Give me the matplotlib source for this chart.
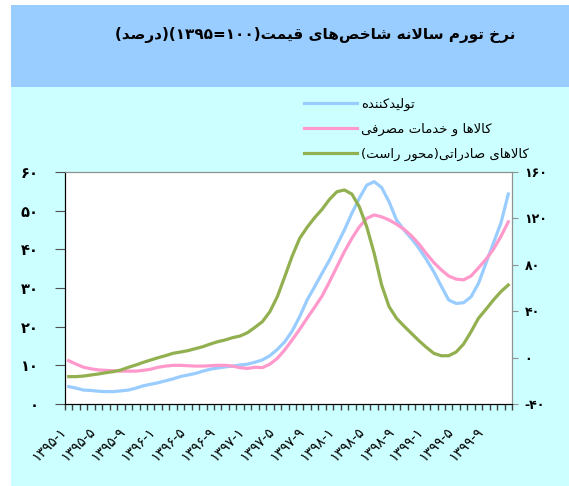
import numpy as np
import matplotlib.pyplot as plt
from matplotlib.patches import Rectangle

### DATA
# months 1395-1 .. 1399-12
producer = [4.5, 4.1, 3.6, 3.5, 3.3, 3.2, 3.2, 3.4, 3.6, 4.1,
            4.7, 5.1, 5.5, 6.0, 6.5, 7.1, 7.5, 7.9, 8.5, 9.0,
            9.3, 9.6, 9.8, 10.1, 10.3, 10.8, 11.4, 12.5, 14.1, 16.1,
            18.9, 22.6, 26.9, 30.3, 33.8, 37.2, 41.1, 45.0, 49.3, 53.2,
            56.6, 57.5, 56.0, 52.3, 47.6, 45.0, 42.8, 40.3, 37.4, 34.2,
            30.5, 26.9, 26.0, 26.2, 27.7, 31.2, 36.4, 41.6, 46.7, 54.3]
consumer = [11.2, 10.3, 9.5, 9.1, 8.8, 8.7, 8.6, 8.5, 8.5, 8.5,
            8.7, 9.0, 9.5, 9.8, 10.0, 10.0, 9.9, 9.8, 9.8, 9.9,
            10.0, 10.0, 9.8, 9.4, 9.2, 9.5, 9.4, 10.3, 11.8, 14.0,
            16.6, 19.3, 22.2, 25.0, 27.9, 31.6, 35.5, 39.4, 42.8, 45.8,
            48.0, 48.9, 48.4, 47.6, 46.5, 45.2, 43.5, 41.4, 38.9, 36.6,
            34.7, 33.1, 32.3, 32.1, 33.1, 35.2, 37.4, 40.0, 43.3, 47.1]
exports = [-16.4, -16.4, -15.9, -15.0, -14.1, -13.0, -12.1, -10.7, -8.4, -6.4,
           -4.1, -2.1, -0.1, 1.7, 3.7, 4.8, 6.0, 7.7, 9.4, 11.7,
           13.7, 15.2, 17.2, 18.6, 21.5, 26.1, 31.0, 39.6, 52.5, 69.8,
           87.6, 102.8, 112.3, 120.6, 127.8, 136.4, 143.0, 144.5, 141.0, 130.1,
           112.8, 89.9, 62.6, 43.9, 33.9, 27.2, 20.9, 14.6, 8.9, 3.7,
           1.6, 1.6, 4.8, 11.7, 22.3, 33.9, 41.6, 49.6, 56.8, 62.6]

years = ["۱۳۹۵", "۱۳۹۶", "۱۳۹۷", "۱۳۹۸", "۱۳۹۹"]
label_months = ["۱", "۵", "۹"]
left_ticks = [0, 10, 20, 30, 40, 50, 60]
left_labels = ["۰", "۱۰", "۲۰", "۳۰", "۴۰", "۵۰", "۶۰"]
right_ticks = [-40, 0, 40, 80, 120, 160]
right_labels = ["-۴۰", "۰", "۴۰", "۸۰", "۱۲۰", "۱۶۰"]

title = "نرخ تورم سالانه شاخص\u200cهای قیمت(۱۰۰=۱۳۹۵)(درصد)"
names = ["تولیدکننده", "کالاها و خدمات مصرفی", "کالاهای صادراتی(محور راست)"]


### persian shaping (matplotlib has no text shaping)
FORMS = {
    'ا': ('\uFE8D', '\uFE8E', None, None),
    'ت': ('\uFE95', '\uFE96', '\uFE97', '\uFE98'),
    'ح': ('\uFEA1', '\uFEA2', '\uFEA3', '\uFEA4'),
    'خ': ('\uFEA5', '\uFEA6', '\uFEA7', '\uFEA8'),
    'د': ('\uFEA9', '\uFEAA', None, None),
    'ر': ('\uFEAD', '\uFEAE', None, None),
    'س': ('\uFEB1', '\uFEB2', '\uFEB3', '\uFEB4'),
    'ش': ('\uFEB5', '\uFEB6', '\uFEB7', '\uFEB8'),
    'ص': ('\uFEB9', '\uFEBA', '\uFEBB', '\uFEBC'),
    'ف': ('\uFED1', '\uFED2', '\uFED3', '\uFED4'),
    'ق': ('\uFED5', '\uFED6', '\uFED7', '\uFED8'),
    'ک': ('\uFB8E', '\uFB8F', '\uFB90', '\uFB91'),
    'ل': ('\uFEDD', '\uFEDE', '\uFEDF', '\uFEE0'),
    'م': ('\uFEE1', '\uFEE2', '\uFEE3', '\uFEE4'),
    'ن': ('\uFEE5', '\uFEE6', '\uFEE7', '\uFEE8'),
    'ه': ('\uFEE9', '\uFEEA', '\uFEEB', '\uFEEC'),
    'و': ('\uFEED', '\uFEEE', None, None),
    'ی': ('\uFBFC', '\uFBFD', '\uFBFE', '\uFBFF'),
    'لا': ('\uFEFB', '\uFEFC', None, None),
}
DIGITS = "۰۱۲۳۴۵۶۷۸۹"


def fa(text):
    toks = []
    i = 0
    while i < len(text):
        if text[i:i + 2] == 'لا':
            toks.append('لا')
            i += 2
        else:
            toks.append(text[i])
            i += 1
    out = []
    for k, t in enumerate(toks):
        if t not in FORMS:
            out.append(t)
            continue
        prev = toks[k - 1] if k > 0 else None
        nxt = toks[k + 1] if k + 1 < len(toks) else None
        jp = prev in FORMS and FORMS[prev][2] is not None
        jn = FORMS[t][2] is not None and nxt in FORMS
        f = FORMS[t]
        out.append(f[3] if jp and jn else f[1] if jp else f[2] if jn else f[0])
    s = "".join(out).replace('\u200c', '')
    s = s[::-1].translate(str.maketrans("()", ")("))
    # digit runs stay left to right
    res, run = "", ""
    for c in s:
        if c in DIGITS:
            run += c
        else:
            res += run[::-1] + c
            run = ""
    return res + run[::-1]


blue = '#99CCFF'
pink = '#FF99CC'
green = '#92B04F'

fig = plt.figure(figsize=(5.69, 4.86), dpi=100, facecolor='white')
fig.patches.append(Rectangle((11 / 569, 0), 1, 481 / 486, transform=fig.transFigure,
                             facecolor='#CCFFFF', edgecolor='none', zorder=-3))
fig.patches.append(Rectangle((11 / 569, 399 / 486), 1, 82 / 486, transform=fig.transFigure,
                             facecolor='#99CCFF', edgecolor='none', zorder=-2))
fig.text(515 / 569, 1 - 35 / 486, fa(title), ha='right', va='center',
         fontsize=11, fontweight='bold')

ax = fig.add_axes([65 / 569, 82 / 486, 447 / 569, 232 / 486])
ax2 = ax.twinx()
x = np.arange(len(producer))
l1, = ax.plot(x, producer, color=blue, lw=2.3)
l2, = ax.plot(x, consumer, color=pink, lw=2.3)
l3, = ax2.plot(x, exports, color=green, lw=2.3)

ax.set_xlim(-0.5, len(producer) - 0.5)
ax.set_ylim(0, 60)
ax2.set_ylim(-40, 160)

ax.set_xticks(np.arange(-0.5, len(producer), 1))
ax.set_xticklabels([])
ax.tick_params(axis='x', which='major', length=4, color='#404040', width=1)
lab_pos = []
lab_txt = []
for yi, yr in enumerate(years):
    for m in label_months:
        lab_pos.append(yi * 12 + int(DIGITS.index(m)) - 1)
        lab_txt.append(yr + "-" + m)
ax.set_xticks(lab_pos, minor=True)
ax.set_xticklabels(lab_txt, minor=True, rotation=45, ha='right', va='top', fontsize=10)
ax.tick_params(axis='x', which='minor', length=0, pad=15)

ax.set_yticks(left_ticks)
ax.set_yticklabels(left_labels, fontsize=10.5, fontweight='bold')
ax.tick_params(axis='y', length=7, color='#505050', pad=12)
ax2.set_yticks(right_ticks)
ax2.set_yticklabels(right_labels, fontsize=9, fontweight='bold')
ax2.tick_params(axis='y', length=4, color='#909090', pad=5)

for a in (ax, ax2):
    a.spines['left'].set_color('black')
    a.spines['bottom'].set_color('black')
    a.spines['right'].set_color('#909090')
    a.spines['top'].set_color('#909090')
ax.set_facecolor('white')

fig.legend([l1, l2, l3], [fa(n) for n in names], loc='upper left',
           bbox_to_anchor=(304 / 569, 1 - 98 / 486), frameon=False,
           fontsize=9.5, handlelength=4.0, handletextpad=0.35, labelspacing=0.9,
           borderpad=0, borderaxespad=0)

fig.savefig('out.png', dpi=100, facecolor=fig.get_facecolor())
